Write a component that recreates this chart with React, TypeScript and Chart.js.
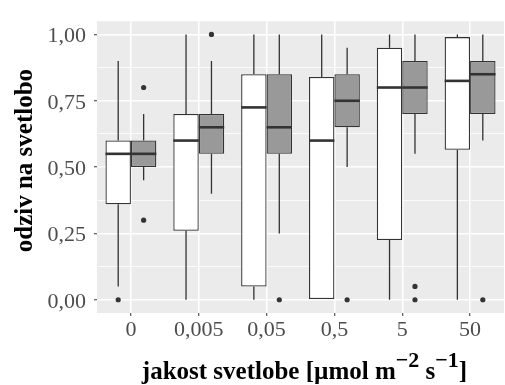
import React, { useEffect, useRef } from 'react';
import { Chart, registerables } from 'chart.js';

Chart.register(...registerables);

const categories = ['0', '0,005', '0,05', '0,5', '5', '50'];
const yTitle = 'odziv na svetlobo';

// Group A (white boxes)
const whiskerLowA = [0.05, 0, 0, 0, 0, 0];
const q1A = [0.36, 0.26, 0.05, 0, 0.225, 0.565];
const medianA = [0.55, 0.6, 0.725, 0.6, 0.8, 0.825];
const q3A = [0.6, 0.7, 0.85, 0.84, 0.95, 0.99];
const whiskerHighA = [0.9, 1.0, 1.0, 1.0, 1.0, 1.0];
const outliersA = [[0], [], [], [], [], []];

// Group B (grey boxes)
const whiskerLowB = [0.45, 0.4, 0.25, 0.5, 0.55, 0.6];
const q1B = [0.5, 0.55, 0.55, 0.65, 0.7, 0.7];
const medianB = [0.55, 0.65, 0.65, 0.75, 0.8, 0.85];
const q3B = [0.6, 0.7, 0.85, 0.85, 0.9, 0.9];
const whiskerHighB = [0.7, 0.9, 1.0, 0.95, 1.0, 1.0];
const outliersB = [[0.3, 0.8], [1.0], [0], [0], [0, 0.05], [0]];

const yGridValues = [0, 0.125, 0.25, 0.375, 0.5, 0.625, 0.75, 0.875, 1.0];
const yMajorTicks = [0, 0.25, 0.5, 0.75, 1.0];

const groups = [
  { low: whiskerLowA, high: whiskerHighA, q1: q1A, q3: q3A, med: medianA, out: outliersA },
  { low: whiskerLowB, high: whiskerHighB, q1: q1B, q3: q3B, med: medianB, out: outliersB },
];

const isMajor = (v: number) => yMajorTicks.some((m) => Math.abs(m - v) < 1e-9);
const fmt = (v: number) => v.toFixed(2).replace('.', ',');

const LINE = '#333333';

const boxPlugin = {
  id: 'boxExtras',
  beforeDraw(chart: any) {
    const { ctx, chartArea } = chart;
    ctx.save();
    ctx.fillStyle = '#EBEBEB';
    ctx.fillRect(chartArea.left, chartArea.top, chartArea.right - chartArea.left, chartArea.bottom - chartArea.top);
    ctx.restore();
  },
  beforeDatasetsDraw(chart: any) {
    const { ctx } = chart;
    const y = chart.scales.y;
    ctx.save();
    ctx.strokeStyle = LINE;
    ctx.lineWidth = 1.3;
    groups.forEach((g, d) => {
      const meta = chart.getDatasetMeta(d);
      meta.data.forEach((bar: any, i: number) => {
        const x = bar.x;
        ctx.beginPath();
        ctx.moveTo(x, y.getPixelForValue(g.q3[i]));
        ctx.lineTo(x, y.getPixelForValue(g.high[i]));
        ctx.moveTo(x, y.getPixelForValue(g.q1[i]));
        ctx.lineTo(x, y.getPixelForValue(g.low[i]));
        ctx.stroke();
      });
    });
    ctx.restore();
  },
  afterDatasetsDraw(chart: any) {
    const { ctx } = chart;
    const y = chart.scales.y;
    ctx.save();
    groups.forEach((g, d) => {
      const meta = chart.getDatasetMeta(d);
      meta.data.forEach((bar: any, i: number) => {
        const x = bar.x;
        const w = bar.width;
        const ym = y.getPixelForValue(g.med[i]);
        ctx.strokeStyle = LINE;
        ctx.lineWidth = 2.6;
        ctx.beginPath();
        ctx.moveTo(x - w / 2, ym);
        ctx.lineTo(x + w / 2, ym);
        ctx.stroke();
        ctx.fillStyle = LINE;
        g.out[i].forEach((v: number) => {
          ctx.beginPath();
          ctx.arc(x, y.getPixelForValue(v), 2.6, 0, Math.PI * 2);
          ctx.fill();
        });
      });
    });
    ctx.restore();
  },
  afterDraw(chart: any) {
    const { ctx, chartArea } = chart;
    ctx.save();
    ctx.translate(31.5, (chartArea.top + chartArea.bottom) / 2 - 6.5);
    ctx.rotate(-Math.PI / 2);
    ctx.font = 'bold 25px "Liberation Serif"';
    ctx.fillStyle = '#000000';
    ctx.textAlign = 'center';
    ctx.textBaseline = 'alphabetic';
    ctx.fillText(yTitle, 0, 0);
    ctx.restore();
  },
};

export default function App() {
  const ref = useRef<HTMLCanvasElement>(null);
  useEffect(() => {
    if (!ref.current) return;
    const chart = new Chart(ref.current, {
      type: 'bar',
      data: {
        labels: categories,
        datasets: [
          {
            data: q1A.map((q, i) => [q, q3A[i]]) as any,
            backgroundColor: '#FFFFFF',
            borderColor: LINE,
            borderWidth: 1.3,
            borderSkipped: false,
            categoryPercentage: 0.75,
            barPercentage: 1.0,
          },
          {
            data: q1B.map((q, i) => [q, q3B[i]]) as any,
            backgroundColor: '#999999',
            borderColor: LINE,
            borderWidth: 1.3,
            borderSkipped: false,
            categoryPercentage: 0.75,
            barPercentage: 1.0,
          },
        ],
      },
      options: {
        animation: false,
        responsive: false,
        layout: { padding: { top: 15, right: 1, left: 0, bottom: 0 } },
        plugins: { legend: { display: false }, tooltip: { enabled: false } },
        scales: {
          x: {
            offset: true,
            afterFit: (s: any) => {
              s.height = 72;
            },
            grid: {
              offset: false,
              color: '#FFFFFF',
              lineWidth: 1.5,
              tickColor: LINE,
              tickLength: 3,
              tickWidth: 1,
            },
            border: { display: false },
            ticks: {
              color: '#4D4D4D',
              padding: 1,
              font: { family: 'Liberation Serif', size: 22 },
            },
          },
          y: {
            min: -0.05,
            max: 1.05,
            afterFit: (s: any) => {
              s.width = 97;
            },
            afterBuildTicks: (s: any) => {
              s.ticks = yGridValues.map((v) => ({ value: v }));
            },
            grid: {
              color: '#FFFFFF',
              lineWidth: (c: any) => (isMajor(c.tick?.value) ? 1.5 : 0.8),
              tickColor: (c: any) => (isMajor(c.tick?.value) ? LINE : 'rgba(0,0,0,0)'),
              tickLength: 3,
              tickWidth: 1,
            },
            border: { display: false },
            ticks: {
              autoSkip: false,
              color: '#4D4D4D',
              padding: 8,
              labelOffset: 2,
              font: { family: 'Liberation Serif', size: 22 },
              callback: (v: any) => (isMajor(Number(v)) ? fmt(Number(v)) : ''),
            },
          },
        },
      },
      plugins: [boxPlugin],
    });
    return () => chart.destroy();
  }, []);

  const sup = { fontSize: 22, position: 'relative' as const, top: -12 };
  return (
    <div style={{ position: 'fixed', left: 0, top: 0, width: 505, height: 385, background: '#FFFFFF' }}>
      <canvas ref={ref} width={505} height={385} style={{ display: 'block' }} />
      <div
        style={{
          position: 'absolute',
          left: 101,
          width: 407,
          top: 357.5,
          textAlign: 'center',
          fontFamily: 'Liberation Serif',
          fontWeight: 'bold',
          fontSize: 25,
          lineHeight: '25px',
          color: '#000000',
          whiteSpace: 'nowrap',
        }}
      >
        jakost svetlobe [µmol m<span style={sup}>−2</span> s<span style={sup}>−1</span>]
      </div>
    </div>
  );
}
